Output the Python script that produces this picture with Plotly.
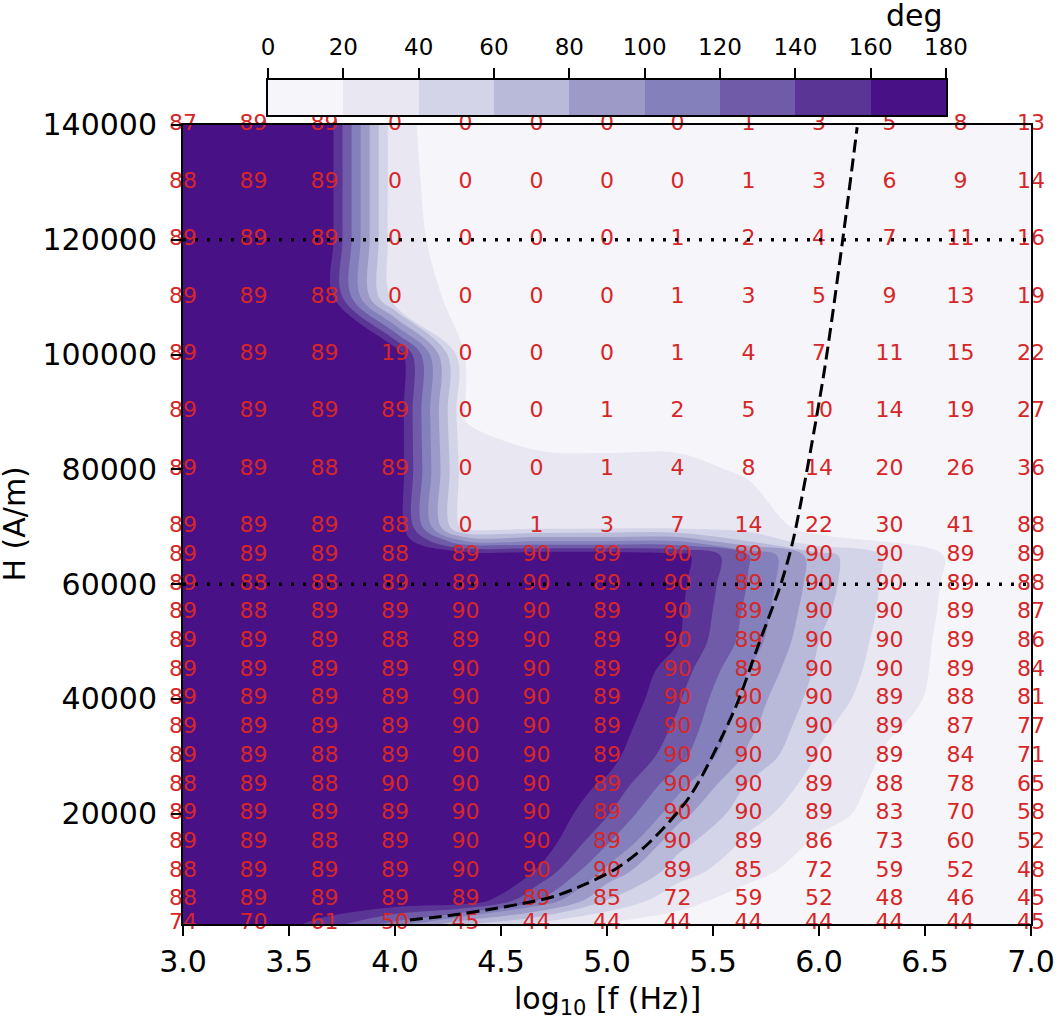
import plotly.graph_objects as go

# grid columns: log10 of frequency
logf = [3.0, 3.333, 3.667, 4.0, 4.333, 4.667, 5.0, 5.333, 5.667, 6.0, 6.333, 6.667, 7.0]

# rows of the red numbers (H in A/m), bottom to top
label_H = [800, 5000, 10000, 15000, 20000, 25000, 30000, 35000, 40000, 45000, 50000,
           55000, 60000, 65000, 70000, 80000, 90000, 100000, 110000, 120000, 130000, 140000]

# red numbers printed on the map, one list per row (bottom to top)
angle_labels = [
    [74, 70, 61, 50, 45, 44, 44, 44, 44, 44, 44, 44, 45],
    [88, 89, 89, 89, 89, 89, 85, 72, 59, 52, 48, 46, 45],
    [88, 89, 89, 89, 90, 90, 90, 89, 85, 72, 59, 52, 48],
    [89, 89, 88, 89, 90, 90, 89, 90, 89, 86, 73, 60, 52],
    [89, 89, 89, 89, 90, 90, 89, 90, 90, 89, 83, 70, 58],
    [88, 89, 88, 90, 90, 90, 89, 90, 90, 89, 88, 78, 65],
    [89, 89, 88, 89, 90, 90, 89, 90, 90, 90, 89, 84, 71],
    [89, 89, 89, 89, 90, 90, 89, 90, 90, 90, 89, 87, 77],
    [89, 89, 89, 89, 90, 90, 89, 90, 90, 90, 89, 88, 81],
    [89, 89, 89, 89, 90, 90, 89, 90, 89, 90, 90, 89, 84],
    [89, 89, 89, 88, 89, 90, 89, 90, 89, 90, 90, 89, 86],
    [89, 88, 89, 89, 90, 90, 89, 90, 89, 90, 90, 89, 87],
    [89, 88, 88, 89, 89, 90, 89, 90, 89, 90, 90, 89, 88],
    [89, 89, 89, 88, 89, 90, 89, 90, 89, 90, 90, 89, 89],
    [89, 89, 89, 88, 0, 1, 3, 7, 14, 22, 30, 41, 88],
    [89, 89, 88, 89, 0, 0, 1, 4, 8, 14, 20, 26, 36],
    [89, 89, 89, 89, 0, 0, 1, 2, 5, 10, 14, 19, 27],
    [89, 89, 89, 19, 0, 0, 0, 1, 4, 7, 11, 15, 22],
    [89, 89, 88, 0, 0, 0, 0, 1, 3, 5, 9, 13, 19],
    [89, 89, 89, 0, 0, 0, 0, 1, 2, 4, 7, 11, 16],
    [88, 89, 89, 0, 0, 0, 0, 0, 1, 3, 6, 9, 14],
    [87, 89, 89, 0, 0, 0, 0, 0, 1, 3, 5, 8, 13],
]

# filled map (deg), estimated from the colour bands, bottom to top
field_H = [800, 5000, 10000, 15000, 20000, 25000, 30000, 35000, 40000, 45000, 50000,
           55000, 60000, 65000, 67500, 70000, 80000, 90000, 100000, 110000, 120000,
           130000, 140000]
field_deg = [
    [180, 178, 152, 112, 62, 35, 18, 13, 10, 8, 6, 5, 5],
    [180, 180, 180, 180, 180, 122, 60, 26, 13, 8, 6, 5, 5],
    [180, 180, 180, 180, 180, 159, 95, 50, 25, 12, 7, 5, 5],
    [180, 180, 180, 180, 180, 176, 122, 67, 36, 17, 9, 6, 5],
    [180, 180, 180, 180, 180, 180, 142, 88, 47, 27, 12, 7, 5],
    [180, 180, 180, 180, 180, 180, 156, 107, 58, 32, 14, 8, 5],
    [180, 180, 180, 180, 180, 180, 168, 127, 76, 38, 17, 9, 5],
    [180, 180, 180, 180, 180, 180, 174, 136, 85, 44, 22, 10, 5],
    [180, 180, 180, 180, 180, 180, 180, 143, 91, 51, 27, 12, 6],
    [180, 180, 180, 180, 180, 180, 180, 151, 100, 56, 30, 12, 6],
    [180, 180, 180, 180, 180, 180, 180, 161, 111, 60, 32, 12, 6],
    [180, 180, 180, 180, 180, 180, 180, 164, 115, 65, 34, 13, 7],
    [180, 180, 180, 180, 180, 180, 180, 166, 119, 69, 35, 14, 7],
    [180, 180, 180, 180, 180, 180, 180, 169, 121, 69, 36, 15, 8],
    [180, 180, 180, 180, 100, 100, 100, 100, 60, 25, 19, 11, 7],
    [180, 180, 180, 180, 26, 30, 32, 32, 29, 14, 12, 10, 8],
    [180, 180, 180, 180, 25, 24, 24, 24, 18, 14, 12, 10, 9],
    [180, 180, 180, 180, 19, 12, 10, 10, 9, 8, 7, 7, 7],
    [180, 180, 180, 180, 18, 12, 9, 8, 7, 7, 7, 7, 7],
    [180, 180, 180, 24, 18, 10, 8, 7, 6, 6, 6, 6, 6],
    [180, 180, 180, 24, 15, 9, 7, 6, 5, 5, 5, 5, 5],
    [180, 180, 180, 24, 13, 8, 6, 5, 5, 5, 5, 5, 5],
    [180, 180, 180, 24, 11, 8, 6, 5, 5, 5, 5, 5, 5],
]

# colour bands
levels = [0, 20, 40, 60, 80, 100, 120, 140, 160, 180]
band_mid = [10, 30, 50, 70, 90, 110, 130, 150, 170]
band_colors = ["#f6f5f9", "#e8e7f2", "#d3d4e8", "#b9b9da", "#9e9ac8",
               "#8380bc", "#6f5ba8", "#5b3596", "#481185"]

# dashed resonance curve
curve_logf = [4.07, 4.25, 4.43, 4.60, 4.75, 4.89, 5.05, 5.20, 5.39, 5.60,
              5.72, 5.82, 5.88, 6.02, 6.11, 6.18]
curve_H = [1500, 2250, 3250, 4350, 5600, 7600, 10600, 15000, 23000, 38000,
           50000, 60000, 68000, 96000, 119500, 139600]

# dotted reference fields
ref_H = [60000, 120000]

band_scale = [[k / 8, c] for k, c in enumerate(band_colors)]

fig = go.Figure()

# filled contour map
fig.add_trace(go.Contour(
    x=logf, y=field_H, z=field_deg,
    contours=dict(start=20, end=160, size=20, coloring="fill", showlines=False),
    colorscale=band_scale,
    line=dict(width=0),
    showscale=False,
    hoverinfo="skip",
))

# red numbers
tx, ty, tt = [], [], []
for h, row in zip(label_H, angle_labels):
    for xv, v in zip(logf, row):
        tx.append(xv)
        ty.append(h)
        tt.append(str(v))
fig.add_trace(go.Scatter(
    x=tx, y=ty, text=tt, mode="text",
    textfont=dict(family="DejaVu Sans", size=22, color="#d62728"),
    cliponaxis=False, hoverinfo="skip",
))

# dashed curve
fig.add_trace(go.Scatter(
    x=curve_logf, y=curve_H, mode="lines",
    line=dict(color="black", width=3, dash="13px,6px", shape="spline", smoothing=0.8),
    hoverinfo="skip",
))

# dotted horizontal lines
for h in ref_H:
    fig.add_hline(y=h, line=dict(color="black", width=3.5, dash="3px,9px"))

# top colour bar drawn as a one-row heatmap
fig.add_trace(go.Heatmap(
    x=levels, y=[0, 1], z=[band_mid],
    xaxis="x2", yaxis="y2",
    colorscale=band_scale, zmin=10, zmax=170,
    showscale=False, hoverinfo="skip",
))

axis_style = dict(
    showline=True, mirror=True, linecolor="black", linewidth=2,
    ticks="outside", ticklen=10, tickwidth=2, tickcolor="black",
    showgrid=False, zeroline=False, automargin=False,
)

fig.update_layout(
    width=1056, height=1020, autosize=False,
    margin=dict(l=183, r=25, t=80, b=96),
    paper_bgcolor="white", plot_bgcolor="white",
    showlegend=False,
    font=dict(family="DejaVu Sans", size=30, color="black"),
    xaxis=dict(range=[3, 7], tick0=3, dtick=0.5, tickformat=".1f",
               tickfont=dict(size=30), ticklabelstandoff=0, **axis_style),
    yaxis=dict(domain=[0, 0.9467], range=[800, 140000],
               tickvals=[20000, 40000, 60000, 80000, 100000, 120000, 140000],
               tickformat="d", tickfont=dict(size=30), ticklabelstandoff=8,
               **axis_style),
    xaxis2=dict(domain=[0.1002, 0.8998], anchor="y2", side="top", range=[0, 180],
                tickvals=levels, tickfont=dict(size=23), ticklabelstandoff=4,
                **axis_style),
    yaxis2=dict(domain=[0.9585, 1.0], anchor="x2", range=[0, 1],
                showline=True, mirror=True, linecolor="black", linewidth=2,
                showticklabels=False, ticks="", showgrid=False, zeroline=False,
                automargin=False),
    annotations=[
        dict(text="log<sub>10</sub> [f (Hz)]", x=0.5, y=0, xref="paper", yref="paper",
             xanchor="center", yanchor="middle", yshift=-76,
             showarrow=False, font=dict(size=30)),
        dict(text="H (A/m)", x=0, y=0.4733, xref="paper", yref="paper",
             xanchor="center", yanchor="middle", xshift=-168, textangle=-90,
             showarrow=False, font=dict(size=30)),
        dict(text="deg", x=0.8986, y=1.077, xref="paper", yref="paper",
             xanchor="right", yanchor="middle", showarrow=False, font=dict(size=30)),
    ],
)

fig.write_html(
    "out.html",
    config={"displayModeBar": False, "responsive": False},
    post_script="document.body.style.margin='0';document.body.style.overflow='hidden';",
)
